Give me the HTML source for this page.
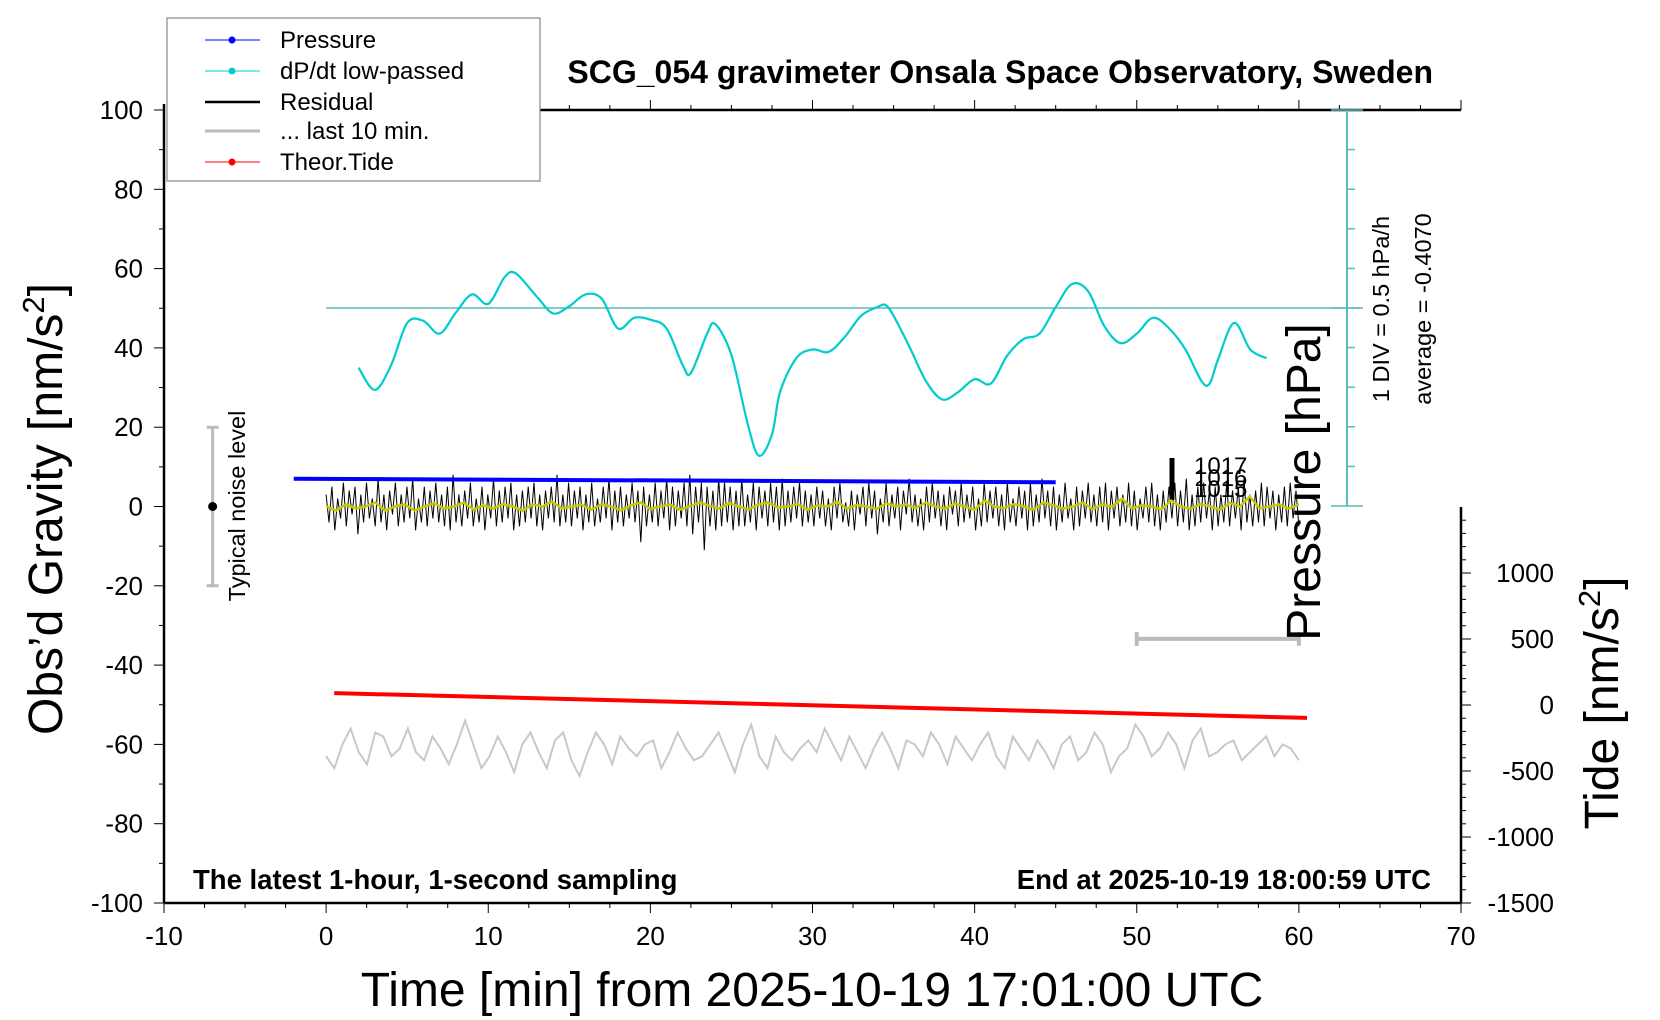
<!DOCTYPE html>
<html><head><meta charset="utf-8"><style>
html,body{margin:0;padding:0;background:#fff}
svg{display:block;font-family:"Liberation Sans",sans-serif}
</style></head><body>
<svg id="chart" width="1660" height="1020" viewBox="0 0 1660 1020" xmlns="http://www.w3.org/2000/svg">
<g id="axes"></g>
<g id="series"></g>
<g id="labels">
<text x="1433" y="83" font-size="32" font-weight="bold" text-anchor="end">SCG_054 gravimeter Onsala Space Observatory, Sweden</text>
<text x="193" y="889" font-size="27.5" font-weight="bold">The latest 1-hour, 1-second sampling</text>
<text x="1431" y="889" font-size="27.5" font-weight="bold" text-anchor="end">End at 2025-10-19 18:00:59 UTC</text>
<text transform="translate(62,509) rotate(-90)" font-size="48" text-anchor="middle">Obs’d Gravity [nm/s<tspan font-size="31" dy="-18">2</tspan><tspan dy="18">]</tspan></text>
<text x="812" y="1006" font-size="48" text-anchor="middle">Time [min] from 2025-10-19 17:01:00 UTC</text>
<text transform="translate(1618,703) rotate(-90)" font-size="48" text-anchor="middle">Tide [nm/s<tspan font-size="31" dy="-18">2</tspan><tspan dy="18">]</tspan></text>
<text transform="translate(1320,482) rotate(-90)" font-size="48" text-anchor="middle">Pressure [hPa]</text>
<text transform="translate(1389,309) rotate(-90)" font-size="23.5" text-anchor="middle">1 DIV = 0.5 hPa/h</text>
<text transform="translate(1431,309) rotate(-90)" font-size="23.5" text-anchor="middle">average = -0.4070</text>
<text transform="translate(245,506) rotate(-90)" font-size="23.5" text-anchor="middle">Typical noise level</text>
<text x="1194" y="474" font-size="24">1017</text>
<text x="1194" y="486" font-size="24">1016</text>
<text x="1194" y="497" font-size="24">1015</text>
</g>
<g id="legend">
<rect x="167" y="18" width="373" height="163" fill="#fff" stroke="#888" stroke-width="1.2"/>
<g><line x1="205" y1="40" x2="260" y2="40" stroke="#00f"/><circle cx="232" cy="40" r="3.5" fill="#00f"/><text x="280" y="48" font-size="24">Pressure</text></g>
<g><line x1="205" y1="71" x2="260" y2="71" stroke="#0cc"/><circle cx="232" cy="71" r="3.5" fill="#0cc"/><text x="280" y="79" font-size="24">dP/dt low-passed</text></g>
<g><line x1="205" y1="102" x2="260" y2="102" stroke="#000" stroke-width="2.5"/><text x="280" y="110" font-size="24">Residual</text></g>
<g><line x1="205" y1="131" x2="260" y2="131" stroke="#bbb" stroke-width="3"/><text x="280" y="139" font-size="24">... last 10 min.</text></g>
<g><line x1="205" y1="162" x2="260" y2="162" stroke="#f00"/><circle cx="232" cy="162" r="3.5" fill="#f00"/><text x="280" y="170" font-size="24">Theor.Tide</text></g>
</g>
</svg>
<script>
// ---- data ----
const xTicks = [-10,0,10,20,30,40,50,60,70];
const yTicks = [-100,-80,-60,-40,-20,0,20,40,60,80,100];
const tideTicks = [-1500,-1000,-500,0,500,1000];
const dpdtTimes = [2,3,4,5,6,7,8,9,10,11,11.7,13,14,15,16,17,18,19,20,21,22,22.5,23.5,24,25,26,26.7,27.5,28,29,30,31,32,33,34,34.5,35,36,37,38,39,40,41,42,43,44,45,46,47,48,49,50,51,52,53,54,54.5,55,56,57,58];
const dpdtValues = [35.0,29.4,35.6,46.3,46.8,43.6,48.9,53.5,51.1,57.8,58.8,52.9,48.7,50.5,53.5,52.4,44.9,47.6,47.1,44.9,35.6,33.7,43.6,46.0,38.2,20.9,12.8,18.2,28.9,37.4,39.6,39.0,42.8,48.1,50.3,50.8,48.1,40.1,31.6,27.0,28.9,32.1,31.0,38.0,42.2,43.6,50.3,56.1,54.3,45.5,41.2,43.6,47.6,44.9,39.6,31.6,31.0,36.9,46.3,39.6,37.4];
const pressureTimes = [-2,45];
const pressureValues = [7.0,6.1];
const tideTimes = [0.5,60.5];
const tideValues = [90,-98];
const residualValues = [3,-4,5,-6,2,-3,6,-5,4,-2,5,-7,3,-4,6,-3,2,-5,7,-4,3,-6,4,-2,6,-5,3,-4,5,-3,7,-6,2,-4,5,-5,4,-3,6,-4,3,-5,5,-6,8,-4,3,-5,4,-3,6,-5,2,-4,5,-6,3,-3,7,-5,4,-4,5,-3,6,-6,3,-5,4,-4,5,-3,6,-5,3,-6,4,-3,5,-4,8,-5,3,-4,6,-5,4,-3,5,-6,3,-4,6,-5,2,-4,5,-3,7,-6,4,-4,5,-5,3,-3,6,-4,4,-9,5,-5,3,-4,6,-5,4,-3,7,-6,5,-5,4,-3,6,-5,8,-7,5,-4,6,-11,5,-5,4,-6,7,-5,6,-4,5,-6,4,-5,7,-5,3,-4,6,-6,5,-3,4,-5,6,-4,5,-6,7,-5,4,-4,5,-3,6,-5,4,-4,3,-5,5,-3,
4,-5,2,-6,5,-3,6,-4,1,-5,4,-6,3,-2,5,-5,6,-3,4,-7,2,-4,6,-5,3,-3,5,-6,4,-2,7,-4,3,-5,2,-6,5,-4,6,-3,4,-5,3,-6,5,-2,4,-5,6,-4,3,-3,5,-6,2,-5,6,-4,4,-3,5,-5,3,-6,6,-4,2,-5,5,-3,4,-6,6,-5,3,-4,7,-3,4,-5,5,-6,3,-4,6,-3,2,-6,5,-5,4,-3,6,-4,3,-5,5,-4,6,-6,4,-3,5,-5,3,-4,6,-5,4,-6,2,-3,5,-4,6,-5,3,-6,4,-4,5,-3,6,-5,4,-4,7,-6,3,-5,5,-4,6,-3,4,-6,5,-5,3,-4,6,-5,4,-3,5,-6,7,-4,3,-5,4,-4,6,-5,5,-3,4,-6,3,-4,5,-5,6,-3,4,-5];
const smoothValues = [0,-1,0.5,-0.5,0,1,-1,0,0.5,-1,0,0.8,-0.5,0,1,-0.8,0.3,-0.5,0.6,0,-1,0.5,0,1.2,-0.5,0,0.4,-0.8,0.5,0,-1,0.3,1,-0.6,0,0.5,-0.8,0,1,0.2,-0.5,0.8,0,-0.7,0.5,1,-0.3,0,0.6,-0.8,0.3,0,1.2,-0.5,0.4,0,-0.6,0.8,0,0.5,-0.4,1,0,-0.5,0.7,0,-0.8,1.5,0,-0.4,0.6,0,-0.8,1,0.3,-0.5,0,1,-0.6,0.5,0,2,-0.5,0.3,0,-0.7,1.5,0,-0.5,0.6,0,-0.8,0.9,0,2.5,-0.5,0,0.5,-0.5,0.5];
const last10Values = [-63,-66,-60,-56,-62,-65,-57,-58,-63,-61,-56,-62,-64,-58,-61,-65,-60,-54,-60,-66,-63,-58,-62,-67,-60,-57,-62,-66,-59,-57,-64,-68,-62,-57,-60,-65,-58,-61,-63,-60,-59,-66,-62,-57,-61,-64,-63,-60,-57,-62,-67,-60,-55,-63,-66,-58,-62,-64,-61,-59,-62,-56,-60,-64,-58,-62,-66,-61,-57,-61,-66,-59,-60,-63,-57,-60,-65,-58,-61,-64,-60,-57,-63,-66,-58,-61,-64,-59,-62,-66,-60,-58,-64,-62,-57,-60,-67,-63,-61,-55,-58,-63,-61,-57,-60,-66,-59,-56,-63,-62,-60,-59,-64,-62,-60,-58,-63,-60,-61,-64];
const noiseBar = [-7,-20,20];
const tenMinBar = [50,60,-33.4];

// ---- scales ----
const X0=164, X1=1461, Y0=110, Y1=903;
const sx = t => X0 + (t+10)/80*(X1-X0);
const sy = v => Y0 + (100-v)/200*(Y1-Y0);
const ty = v => 903 - (v+1500)/500*66;
const cyBottom = 506, cyTop = 110;

const NS="http://www.w3.org/2000/svg";
function mk(tag,attrs,parent){const e=document.createElementNS(NS,tag);for(const k in attrs)e.setAttribute(k,attrs[k]);parent.appendChild(e);return e;}
const axes=document.getElementById('axes'), series=document.getElementById('series');

let e=mk('line',{x1:X0,y1:104,x2:X0,y2:Y1,stroke:'#000','stroke-width':2.5},axes);


for(let v=-100;v<=100;v+=10){mk('line',{x1:X0-(v%20===0?10:5),y1:sy(v),x2:X0,y2:sy(v),stroke:'#000','stroke-width':1},axes);}
yTicks.forEach(v=>{const t=mk('text',{x:143,y:sy(v)+9,'font-size':26,'text-anchor':'end'},axes);t.textContent=v;

});
e=mk('line',{x1:X0,y1:Y1,x2:X1,y2:Y1,stroke:'#000','stroke-width':2.5},axes);


e=mk('line',{x1:540,y1:Y0,x2:X1,y2:Y0,stroke:'#000','stroke-width':2.5},axes);


for(let t=-10;t<=70;t+=2.5){const big=t%10===0;mk('line',{x1:sx(t),y1:Y1,x2:sx(t),y2:Y1+(big?10:5),stroke:'#000'},axes);
if(sx(t)>540)mk('line',{x1:sx(t),y1:Y0,x2:sx(t),y2:Y0-(big?10:5),stroke:'#000'},axes);}
xTicks.forEach(v=>{const t=mk('text',{x:sx(v),y:945,'font-size':26,'text-anchor':'middle'},axes);t.textContent=v;

});
e=mk('line',{x1:X1,y1:507,x2:X1,y2:Y1,stroke:'#000','stroke-width':2.5},axes);


for(let v=-1500;v<=1450;v+=100){mk('line',{x1:X1,y1:ty(v),x2:X1+(v%500===0?10:5),y2:ty(v),stroke:'#000'},axes);}
tideTicks.forEach(v=>{const t=mk('text',{x:1554,y:ty(v)+9,'font-size':26,'text-anchor':'end'},axes);t.textContent=v;

});
e=mk('line',{x1:1347,y1:cyTop,x2:1347,y2:cyBottom,stroke:'#5bbcbc','stroke-width':2},axes);


for(let i=0;i<=10;i++){const y=cyTop+i*(cyBottom-cyTop)/10;const w=(i===0||i===5||i===10)?16:0;mk('line',{x1:1347-w,y1:y,x2:1355+(w?8:0),y2:y,stroke:'#5bbcbc','stroke-width':1.5},axes);}
e=mk('line',{x1:sx(0),y1:308,x2:1360,y2:308,stroke:'#5bbcbc','stroke-width':1.5},axes);


e=mk('line',{x1:1172,y1:458,x2:1172,y2:500,stroke:'#000','stroke-width':5},axes);



function poly(xs,ys,attrs,name){const p=mk('polyline',Object.assign({fill:'none',points:xs.map((x,i)=>x.toFixed(1)+','+ys[i].toFixed(1)).join(' ')},attrs),series);

return p;}
function smooth(xs,ys,attrs,name){let d='M'+xs[0].toFixed(1)+','+ys[0].toFixed(1);
for(let i=0;i<xs.length-1;i++){const x0=xs[Math.max(i-1,0)],y0=ys[Math.max(i-1,0)],x1=xs[i],y1=ys[i],x2=xs[i+1],y2=ys[i+1],x3=xs[Math.min(i+2,xs.length-1)],y3=ys[Math.min(i+2,xs.length-1)];
d+=` C${(x1+(x2-x0)/6).toFixed(1)},${(y1+(y2-y0)/6).toFixed(1)} ${(x2-(x3-x1)/6).toFixed(1)},${(y2-(y3-y1)/6).toFixed(1)} ${x2.toFixed(1)},${y2.toFixed(1)}`;}
const p=mk('path',Object.assign({fill:'none',d:d},attrs),series);

return p;}

const rStep=60/(residualValues.length-1);
poly(residualValues.map((v,i)=>sx(i*rStep)),residualValues.map(v=>sy(v)),{stroke:'#000','stroke-width':1},'residual-line');
const sStep=60/(smoothValues.length-1);
poly(smoothValues.map((v,i)=>sx(i*sStep)),smoothValues.map(v=>sy(v)),{stroke:'#c8c800','stroke-width':2.5},'residual-smoothed-line');
poly(pressureTimes.map(sx),pressureValues.map(sy),{stroke:'#00f','stroke-width':4},'pressure-line');
smooth(dpdtTimes.map(sx),dpdtValues.map(sy),{stroke:'#0cc','stroke-width':2.2},'dpdt-line');
poly(tideTimes.map(sx),tideValues.map(ty),{stroke:'#f00','stroke-width':4},'tide-line');
const lStep=60/(last10Values.length-1);
poly(last10Values.map((v,i)=>sx(i*lStep)),last10Values.map(sy),{stroke:'#c8c8c8','stroke-width':2},'last-10-min-line');
const nx=sx(noiseBar[0]);
e=mk('path',{d:`M${nx-6},${sy(noiseBar[2])}H${nx+6}M${nx},${sy(noiseBar[2])}V${sy(noiseBar[1])}M${nx-6},${sy(noiseBar[1])}H${nx+6}`,stroke:'#bbb','stroke-width':3,fill:'none'},series);


e=mk('circle',{cx:nx,cy:sy(0),r:4.5,fill:'#000'},series);


const by=sy(tenMinBar[2]);
e=mk('path',{d:`M${sx(tenMinBar[0])},${by-7}V${by+7}M${sx(tenMinBar[0])},${by}H${sx(tenMinBar[1])}M${sx(tenMinBar[1])},${by-7}V${by+7}`,stroke:'#bbb','stroke-width':4,fill:'none'},series);


</script>
</body></html>
